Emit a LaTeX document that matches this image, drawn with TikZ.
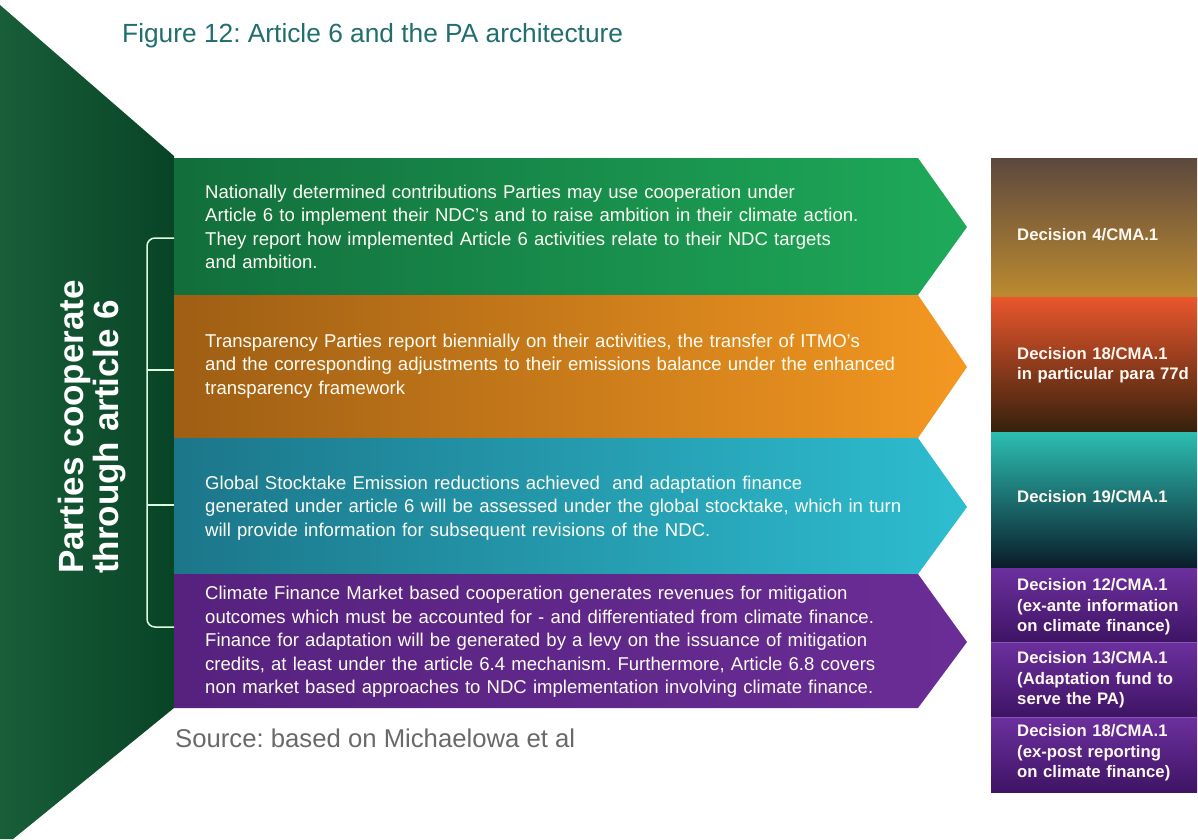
\documentclass[tikz,border=0pt]{standalone}
\usepackage{fontspec}
\setmainfont{Liberation Sans}
\usetikzlibrary{calc}
\frenchspacing

\definecolor{trapL}{RGB}{24,94,57}
\definecolor{trapR}{RGB}{8,68,38}
\definecolor{ndcL}{RGB}{18,110,60}
\definecolor{ndcR}{RGB}{30,170,90}
\definecolor{transpL}{RGB}{158,94,20}
\definecolor{transpR}{RGB}{244,152,33}
\definecolor{gstL}{RGB}{28,118,138}
\definecolor{gstR}{RGB}{46,189,208}
\definecolor{finL}{RGB}{86,34,126}
\definecolor{finR}{RGB}{106,45,150}
\definecolor{titleteal}{RGB}{32,110,110}
\definecolor{srcgray}{RGB}{105,105,105}
\definecolor{purpTop}{RGB}{108,48,158}
\definecolor{purpBot}{RGB}{62,20,100}
\definecolor{purpLine}{RGB}{135,85,180}

\tikzset{
  bandtext/.style={anchor=west,inner sep=0pt,align=left,text width=740pt,
    text=white!96!yellow,font=\fontsize{18.55}{23.5}\selectfont},
  dectext/.style={anchor=west,inner sep=0pt,align=left,text width=178pt,
    text=white!95!orange,font=\bfseries\fontsize{16.7}{20.5}\selectfont},
  bracket/.style={draw=white!88!green,line width=1.5pt}
}

\begin{document}
\begin{tikzpicture}[x=1pt,y=-1pt]
 \useasboundingbox (0,0) rectangle (1198,839);
 \fill[white] (0,0) rectangle (1198,839);

 \shade[left color=trapL,right color=trapR] (0,5)--(174,156)--(174,708)--(13,839)--(0,839)--cycle;

 \shade[left color=ndcL,right color=ndcR] (174,158)--(918,158)--(967,227)--(918,295)--(174,295)--cycle;
 \shade[left color=transpL,right color=transpR] (174,295)--(918,295)--(967,367)--(918,438)--(174,438)--cycle;
 \shade[left color=gstL,right color=gstR] (174,438)--(918,438)--(967,507)--(918,574)--(174,574)--cycle;
 \shade[left color=finL,right color=finR] (174,574)--(918,574)--(967,642)--(918,708)--(174,708)--cycle;

 \shade[top color={rgb,255:red,92;green,72;blue,62},middle color={rgb,255:red,140;green,100;blue,56},bottom color={rgb,255:red,188;green,138;blue,48}] (991,158) rectangle (1197,297);
 \shade[top color={rgb,255:red,234;green,86;blue,45},middle color={rgb,255:red,145;green,74;blue,38},bottom color={rgb,255:red,52;green,33;blue,12}] (991,297) rectangle (1197,432);
 \shade[top color={rgb,255:red,45;green,190;blue,178},middle color={rgb,255:red,24;green,108;blue,118},bottom color={rgb,255:red,10;green,28;blue,42}] (991,432) rectangle (1197,568);
 \shade[top color=purpTop,bottom color=purpBot] (991,568) rectangle (1197,642);
 \shade[top color=purpTop,bottom color=purpBot] (991,642) rectangle (1197,717);
 \shade[top color=purpTop,bottom color=purpBot] (991,717) rectangle (1197,792);
 \draw[purpLine,line width=1pt] (991,642)--(1197,642);
 \draw[purpLine,line width=1pt] (991,717)--(1197,717);

 \coordinate (spine) at (147,0);
 \coordinate (b1) at (174,238);
 \coordinate (b2) at (174,370);
 \coordinate (b3) at (174,505);
 \coordinate (b4) at (174,627);
 \draw[bracket,rounded corners=8pt] (b1)--(b1 -| spine)--(b4 -| spine)--(b4);
 \draw[bracket] (b2)--(b2 -| spine);
 \draw[bracket] (b3)--(b3 -| spine);

 \node[rotate=90,anchor=base west,align=left,inner sep=0pt,text=white,
   font=\bfseries\fontsize{35}{35}\selectfont] (parties) at (118,574) {Parties cooperate\\through article 6};

 \node[anchor=base west,inner sep=0pt,text=titleteal,font=\fontsize{26.3}{30}\selectfont] (title) at (122,42) {Figure 12: Article 6 and the PA architecture};
 \node[anchor=base west,inner sep=0pt,text=srcgray,font=\fontsize{25.7}{30}\selectfont] (source) at (175,747) {Source: based on Michaelowa et al};

 \node[bandtext] (ndc) at (205,227) {Nationally determined contributions Parties may use cooperation under\\
   Article 6 to implement their NDC’s and to raise ambition in their climate action.\\
   They report how implemented Article 6 activities relate to their NDC targets\\
   and ambition.};
 \node[bandtext] (transp) at (205,366) {Transparency Parties report biennially on their activities, the transfer of ITMO’s\\
   and the corresponding adjustments to their emissions balance under the enhanced\\
   transparency framework};
 \node[bandtext] (gst) at (205,508) {Global Stocktake Emission reductions achieved \ and adaptation finance\\
   generated under article 6 will be assessed under the global stocktake, which in turn\\
   will provide information for subsequent revisions of the NDC.};
 \node[bandtext] (fin) at (205,642) {Climate Finance Market based cooperation generates revenues for mitigation\\
   outcomes which must be accounted for - and differentiated from climate finance.\\
   Finance for adaptation will be generated by a levy on the issuance of mitigation\\
   credits, at least under the article 6.4 mechanism. Furthermore, Article 6.8 covers\\
   non market based approaches to NDC implementation involving climate finance.};

 \node[dectext] (dec4) at (1017,235) {Decision 4/CMA.1};
 \node[dectext] (dec18a) at (1017,365) {Decision 18/CMA.1\\in particular para 77d};
 \node[dectext] (dec19) at (1017,497) {Decision 19/CMA.1};
 \node[dectext] (dec12) at (1017,607) {Decision 12/CMA.1\\(ex-ante information\\on climate finance)};
 \node[dectext] (dec13) at (1017,680) {Decision 13/CMA.1\\(Adaptation fund to\\serve the PA)};
 \node[dectext] (dec18b) at (1017,753) {Decision 18/CMA.1\\(ex-post reporting\\on climate finance)};
\end{tikzpicture}
\end{document}
